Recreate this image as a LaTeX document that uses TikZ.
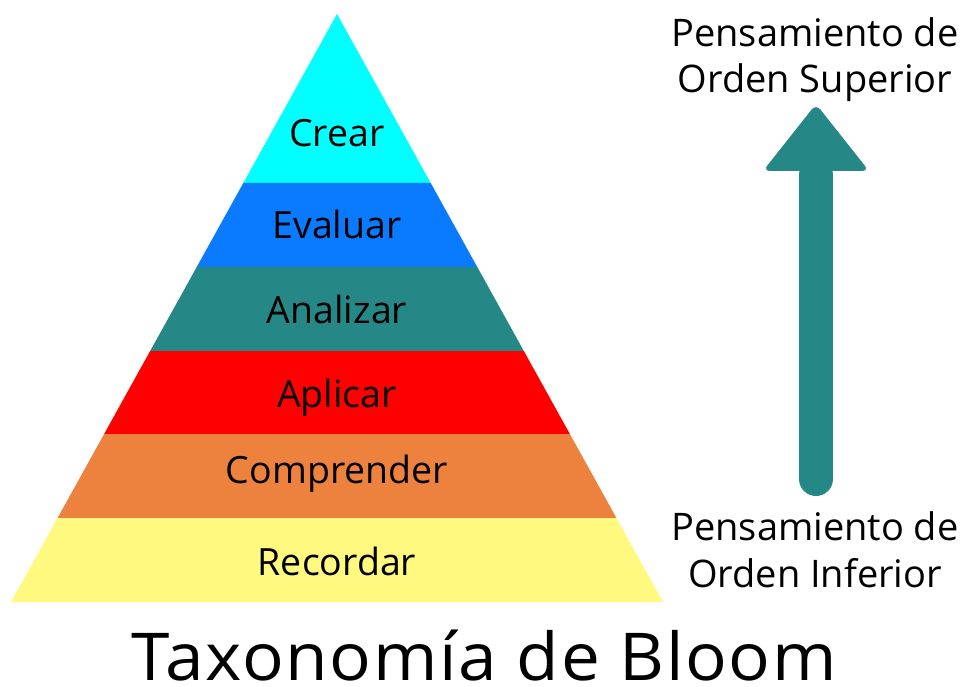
\documentclass[tikz,border=0pt]{standalone}
\usepackage{fontspec}
\setmainfont{Open Sans}
\newfontfamily\titlefont[FakeStretch=1.05,LetterSpace=2.5]{Open Sans}
\usetikzlibrary{calc}
\definecolor{cCrear}{HTML}{00FFFF}
\definecolor{cEval}{HTML}{0A7AFF}
\definecolor{cAnal}{HTML}{268787}
\definecolor{cApl}{HTML}{FF0000}
\definecolor{cComp}{HTML}{ED823F}
\definecolor{cRec}{HTML}{FFF980}
\begin{document}
\begin{tikzpicture}[x=1pt,y=-1pt,
  lvl/.style={font=\fontsize{37.5}{44}\selectfont, text=black, inner sep=0pt, anchor=base},
  side/.style={font=\fontsize{38}{46}\selectfont, text=black, inner sep=0pt, anchor=base},
  ttl/.style={font=\titlefont\fontsize{66}{72}\selectfont, text=black, inner sep=0pt, anchor=base}]
\useasboundingbox (0,0) rectangle (964,687);
\fill[white] (0,0) rectangle (964,687);
\coordinate (apex) at (337,14);
\coordinate (bl) at (11,602);
\coordinate (br) at (663,602);
% band fractions: (y-14)/588
\def\ta{0.28741}\def\tb{0.43027}\def\tc{0.57313}\def\td{0.71429}\def\te{0.85714}
\fill[cCrear] (apex) -- ($(apex)!\ta!(br)$) -- ($(apex)!\ta!(bl)$) -- cycle;
\fill[cEval] ($(apex)!\ta!(bl)$) -- ($(apex)!\ta!(br)$) -- ($(apex)!\tb!(br)$) -- ($(apex)!\tb!(bl)$) -- cycle;
\fill[cAnal] ($(apex)!\tb!(bl)$) -- ($(apex)!\tb!(br)$) -- ($(apex)!\tc!(br)$) -- ($(apex)!\tc!(bl)$) -- cycle;
\fill[cApl] ($(apex)!\tc!(bl)$) -- ($(apex)!\tc!(br)$) -- ($(apex)!\td!(br)$) -- ($(apex)!\td!(bl)$) -- cycle;
\fill[cComp] ($(apex)!\td!(bl)$) -- ($(apex)!\td!(br)$) -- ($(apex)!\te!(br)$) -- ($(apex)!\te!(bl)$) -- cycle;
\fill[cRec] ($(apex)!\te!(bl)$) -- ($(apex)!\te!(br)$) -- (br) -- (bl) -- cycle;
\node[lvl] (crear) at (337,147) {Crear};
\node[lvl] (eval) at (337,239) {Evaluar};
\node[lvl] (anal) at (337,323) {Analizar};
\node[lvl] (apl) at (337,407) {Aplicar};
\node[lvl] (comp) at (337,483) {Comprender};
\node[lvl] (rec) at (337,575) {Recordar};
% arrow
\coordinate (shaftLow) at (816,479);
\coordinate (shaftTop) at (816,175);
\draw[cAnal, line width=34pt, line cap=round] (shaftLow) -- (shaftTop);
\fill[cAnal, rounded corners=7pt] (816,104) -- (869,171) -- (763,171) -- cycle;
\node[side] (sup1) at (815,47) {Pensamiento de};
\node[side] (sup2) at (815,93) {Orden Superior};
\node[side] (inf1) at (815,540) {Pensamiento de};
\node[side] (inf2) at (815,587) {Orden Inferior};
\node[ttl] (title) at (484,680) {Taxonomía de Bloom};
\end{tikzpicture}
\end{document}
